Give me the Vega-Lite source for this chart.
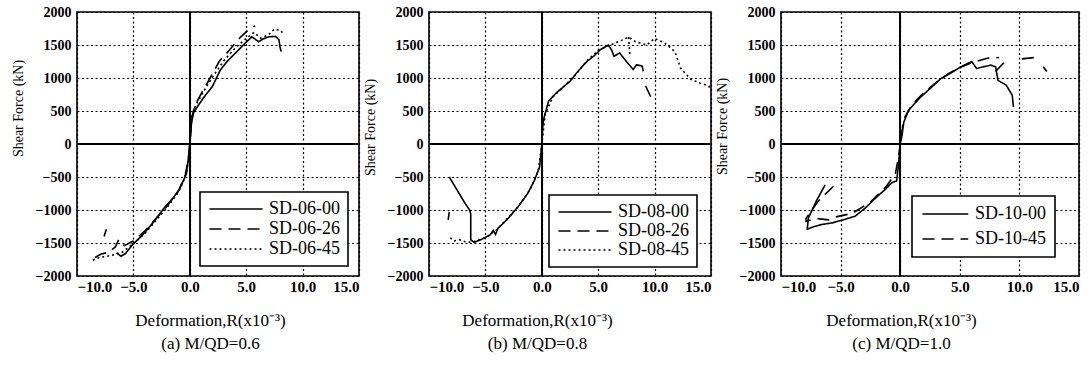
{
  "$schema": "https://vega.github.io/schema/vega-lite/v6.json",
  "padding": {"left": 10, "top": 4, "right": 5, "bottom": 5},
  "bounds": "flush",
  "spacing": 70,
  "background": "white",
  "datasets": {
    "p1": [
      {"s":"SD-06-00","g":"a","i":0,"x":-6.5,"y":-1650},{"s":"SD-06-00","g":"a","i":1,"x":-6.1,"y":-1700},{"s":"SD-06-00","g":"a","i":2,"x":-5.7,"y":-1660},{"s":"SD-06-00","g":"a","i":3,"x":-5.1,"y":-1530},{"s":"SD-06-00","g":"a","i":4,"x":-4.2,"y":-1380},{"s":"SD-06-00","g":"a","i":5,"x":-3.2,"y":-1180},{"s":"SD-06-00","g":"a","i":6,"x":-2.3,"y":-975},{"s":"SD-06-00","g":"a","i":7,"x":-1.4,"y":-800},{"s":"SD-06-00","g":"a","i":8,"x":-0.9,"y":-680},{"s":"SD-06-00","g":"a","i":9,"x":-0.55,"y":-545},{"s":"SD-06-00","g":"a","i":10,"x":-0.3,"y":-450},{"s":"SD-06-00","g":"a","i":11,"x":-0.15,"y":-250},{"s":"SD-06-00","g":"a","i":12,"x":0,"y":0},{"s":"SD-06-00","g":"a","i":13,"x":0.1,"y":250},{"s":"SD-06-00","g":"a","i":14,"x":0.2,"y":364},{"s":"SD-06-00","g":"a","i":15,"x":0.35,"y":480},{"s":"SD-06-00","g":"a","i":16,"x":0.65,"y":560},{"s":"SD-06-00","g":"a","i":17,"x":1.3,"y":720},{"s":"SD-06-00","g":"a","i":18,"x":2.0,"y":870},{"s":"SD-06-00","g":"a","i":19,"x":2.7,"y":1120},{"s":"SD-06-00","g":"a","i":20,"x":3.3,"y":1250},{"s":"SD-06-00","g":"a","i":21,"x":4.0,"y":1370},{"s":"SD-06-00","g":"a","i":22,"x":4.9,"y":1525},{"s":"SD-06-00","g":"a","i":23,"x":5.5,"y":1625},{"s":"SD-06-00","g":"a","i":24,"x":6.1,"y":1550},{"s":"SD-06-00","g":"a","i":25,"x":6.5,"y":1590},{"s":"SD-06-00","g":"a","i":26,"x":7.0,"y":1625},{"s":"SD-06-00","g":"a","i":27,"x":7.6,"y":1630},{"s":"SD-06-00","g":"a","i":28,"x":7.9,"y":1580},{"s":"SD-06-00","g":"a","i":29,"x":8.0,"y":1470},{"s":"SD-06-00","g":"a","i":30,"x":8.1,"y":1400},
      {"s":"SD-06-26","g":"a","i":0,"x":-8.4,"y":-1720},{"s":"SD-06-26","g":"a","i":1,"x":-7.9,"y":-1670},{"s":"SD-06-26","g":"a","i":2,"x":-7.2,"y":-1640},{"s":"SD-06-26","g":"a","i":3,"x":-6.6,"y":-1560},{"s":"SD-06-26","g":"a","i":4,"x":-6.3,"y":-1450},{"s":"SD-06-26","g":"a","i":5,"x":-5.8,"y":-1540},{"s":"SD-06-26","g":"a","i":6,"x":-5.0,"y":-1470},{"s":"SD-06-26","g":"a","i":7,"x":-4.0,"y":-1320},{"s":"SD-06-26","g":"a","i":8,"x":-3.0,"y":-1130},{"s":"SD-06-26","g":"a","i":9,"x":-2.0,"y":-940},{"s":"SD-06-26","g":"a","i":10,"x":-1.0,"y":-710},{"s":"SD-06-26","g":"a","i":11,"x":-0.4,"y":-470},{"s":"SD-06-26","g":"a","i":12,"x":-0.1,"y":-200},{"s":"SD-06-26","g":"a","i":13,"x":0,"y":0},{"s":"SD-06-26","g":"a","i":14,"x":0.2,"y":420},{"s":"SD-06-26","g":"a","i":15,"x":0.5,"y":600},{"s":"SD-06-26","g":"a","i":16,"x":1.0,"y":760},{"s":"SD-06-26","g":"a","i":17,"x":1.8,"y":1000},{"s":"SD-06-26","g":"a","i":18,"x":2.6,"y":1250},{"s":"SD-06-26","g":"a","i":19,"x":3.5,"y":1420},{"s":"SD-06-26","g":"a","i":20,"x":4.5,"y":1620},{"s":"SD-06-26","g":"a","i":21,"x":5.2,"y":1730},{"s":"SD-06-26","g":"a","i":22,"x":5.8,"y":1790},
      {"s":"SD-06-26","g":"b","i":0,"x":-7.4,"y":-1290},{"s":"SD-06-26","g":"b","i":1,"x":-7.6,"y":-1400},
      {"s":"SD-06-45","g":"a","i":0,"x":-8.6,"y":-1760},{"s":"SD-06-45","g":"a","i":1,"x":-8.0,"y":-1720},{"s":"SD-06-45","g":"a","i":2,"x":-7.0,"y":-1690},{"s":"SD-06-45","g":"a","i":3,"x":-6.0,"y":-1640},{"s":"SD-06-45","g":"a","i":4,"x":-5.0,"y":-1510},{"s":"SD-06-45","g":"a","i":5,"x":-4.0,"y":-1360},{"s":"SD-06-45","g":"a","i":6,"x":-3.0,"y":-1160},{"s":"SD-06-45","g":"a","i":7,"x":-2.0,"y":-960},{"s":"SD-06-45","g":"a","i":8,"x":-1.0,"y":-730},{"s":"SD-06-45","g":"a","i":9,"x":-0.4,"y":-500},{"s":"SD-06-45","g":"a","i":10,"x":-0.1,"y":-250},{"s":"SD-06-45","g":"a","i":11,"x":0,"y":0},{"s":"SD-06-45","g":"a","i":12,"x":0.2,"y":450},{"s":"SD-06-45","g":"a","i":13,"x":0.5,"y":580},{"s":"SD-06-45","g":"a","i":14,"x":1.2,"y":790},{"s":"SD-06-45","g":"a","i":15,"x":2.0,"y":1010},{"s":"SD-06-45","g":"a","i":16,"x":3.0,"y":1260},{"s":"SD-06-45","g":"a","i":17,"x":4.0,"y":1450},{"s":"SD-06-45","g":"a","i":18,"x":5.0,"y":1600},{"s":"SD-06-45","g":"a","i":19,"x":5.7,"y":1690},{"s":"SD-06-45","g":"a","i":20,"x":6.3,"y":1600},{"s":"SD-06-45","g":"a","i":21,"x":7.0,"y":1660},{"s":"SD-06-45","g":"a","i":22,"x":7.5,"y":1740},{"s":"SD-06-45","g":"a","i":23,"x":8.1,"y":1720},{"s":"SD-06-45","g":"a","i":24,"x":8.2,"y":1680}
    ],
    "p2": [
      {"s":"SD-08-00","g":"a","i":0,"x":-8.2,"y":-500},{"s":"SD-08-00","g":"a","i":1,"x":-7.5,"y":-700},{"s":"SD-08-00","g":"a","i":2,"x":-6.8,"y":-900},{"s":"SD-08-00","g":"a","i":3,"x":-6.4,"y":-1000},{"s":"SD-08-00","g":"a","i":4,"x":-6.3,"y":-1060},{"s":"SD-08-00","g":"a","i":5,"x":-6.3,"y":-1450},{"s":"SD-08-00","g":"a","i":6,"x":-6.0,"y":-1490},{"s":"SD-08-00","g":"a","i":7,"x":-5.4,"y":-1450},{"s":"SD-08-00","g":"a","i":8,"x":-4.6,"y":-1380},{"s":"SD-08-00","g":"a","i":9,"x":-4.3,"y":-1310},{"s":"SD-08-00","g":"a","i":10,"x":-4.1,"y":-1370},{"s":"SD-08-00","g":"a","i":11,"x":-3.9,"y":-1280},{"s":"SD-08-00","g":"a","i":12,"x":-3.0,"y":-1130},{"s":"SD-08-00","g":"a","i":13,"x":-2.1,"y":-950},{"s":"SD-08-00","g":"a","i":14,"x":-1.25,"y":-750},{"s":"SD-08-00","g":"a","i":15,"x":-0.65,"y":-550},{"s":"SD-08-00","g":"a","i":16,"x":-0.2,"y":-350},{"s":"SD-08-00","g":"a","i":17,"x":-0.05,"y":-100},{"s":"SD-08-00","g":"a","i":18,"x":0,"y":0},{"s":"SD-08-00","g":"a","i":19,"x":0.1,"y":300},{"s":"SD-08-00","g":"a","i":20,"x":0.2,"y":400},{"s":"SD-08-00","g":"a","i":21,"x":0.6,"y":650},{"s":"SD-08-00","g":"a","i":22,"x":1.3,"y":776},{"s":"SD-08-00","g":"a","i":23,"x":2.5,"y":950},{"s":"SD-08-00","g":"a","i":24,"x":3.3,"y":1120},{"s":"SD-08-00","g":"a","i":25,"x":4.0,"y":1250},{"s":"SD-08-00","g":"a","i":26,"x":4.6,"y":1330},{"s":"SD-08-00","g":"a","i":27,"x":5.2,"y":1430},{"s":"SD-08-00","g":"a","i":28,"x":5.9,"y":1500},{"s":"SD-08-00","g":"a","i":29,"x":6.2,"y":1420},{"s":"SD-08-00","g":"a","i":30,"x":6.4,"y":1330},{"s":"SD-08-00","g":"a","i":31,"x":6.9,"y":1380},{"s":"SD-08-00","g":"a","i":32,"x":7.5,"y":1250},{"s":"SD-08-00","g":"a","i":33,"x":8.1,"y":1130},{"s":"SD-08-00","g":"a","i":34,"x":8.4,"y":1200},{"s":"SD-08-00","g":"a","i":35,"x":8.9,"y":1180},{"s":"SD-08-00","g":"a","i":36,"x":9.0,"y":1100},
      {"s":"SD-08-26","g":"a","i":0,"x":-8.2,"y":-1030},{"s":"SD-08-26","g":"a","i":1,"x":-8.3,"y":-1150},
      {"s":"SD-08-26","g":"b","i":0,"x":9.2,"y":880},{"s":"SD-08-26","g":"b","i":1,"x":9.75,"y":680},
      {"s":"SD-08-45","g":"a","i":0,"x":-8.1,"y":-1420},{"s":"SD-08-45","g":"a","i":1,"x":-7.8,"y":-1470},{"s":"SD-08-45","g":"a","i":2,"x":-7.3,"y":-1450},{"s":"SD-08-45","g":"a","i":3,"x":-6.8,"y":-1480},{"s":"SD-08-45","g":"a","i":4,"x":-6.2,"y":-1490},{"s":"SD-08-45","g":"a","i":5,"x":-5.0,"y":-1420},{"s":"SD-08-45","g":"a","i":6,"x":-4.0,"y":-1300},{"s":"SD-08-45","g":"a","i":7,"x":-3.0,"y":-1120},{"s":"SD-08-45","g":"a","i":8,"x":-2.0,"y":-930},{"s":"SD-08-45","g":"a","i":9,"x":-1.0,"y":-680},{"s":"SD-08-45","g":"a","i":10,"x":-0.3,"y":-400},{"s":"SD-08-45","g":"a","i":11,"x":0,"y":0},{"s":"SD-08-45","g":"a","i":12,"x":0.3,"y":450},{"s":"SD-08-45","g":"a","i":13,"x":1.0,"y":720},{"s":"SD-08-45","g":"a","i":14,"x":2.0,"y":880},{"s":"SD-08-45","g":"a","i":15,"x":3.0,"y":1050},{"s":"SD-08-45","g":"a","i":16,"x":4.0,"y":1260},{"s":"SD-08-45","g":"a","i":17,"x":5.0,"y":1420},{"s":"SD-08-45","g":"a","i":18,"x":5.9,"y":1490},{"s":"SD-08-45","g":"a","i":19,"x":6.5,"y":1530},{"s":"SD-08-45","g":"a","i":20,"x":7.2,"y":1580},{"s":"SD-08-45","g":"a","i":21,"x":7.7,"y":1620},{"s":"SD-08-45","g":"a","i":22,"x":8.3,"y":1550},{"s":"SD-08-45","g":"a","i":23,"x":9.3,"y":1500},{"s":"SD-08-45","g":"a","i":24,"x":10.0,"y":1600},{"s":"SD-08-45","g":"a","i":25,"x":10.9,"y":1530},{"s":"SD-08-45","g":"a","i":26,"x":11.8,"y":1400},{"s":"SD-08-45","g":"a","i":27,"x":12.3,"y":1150},{"s":"SD-08-45","g":"a","i":28,"x":13.2,"y":980},{"s":"SD-08-45","g":"a","i":29,"x":14.0,"y":925},{"s":"SD-08-45","g":"a","i":30,"x":14.8,"y":880},{"s":"SD-08-45","g":"a","i":31,"x":15.0,"y":800},
      {"s":"SD-08-45","g":"b","i":0,"x":7.7,"y":1620},{"s":"SD-08-45","g":"b","i":1,"x":7.8,"y":1350}
    ],
    "p3": [
      {"s":"SD-10-00","g":"a","i":0,"x":-6.3,"y":-620},{"s":"SD-10-00","g":"a","i":1,"x":-7.0,"y":-850},{"s":"SD-10-00","g":"a","i":2,"x":-7.7,"y":-1120},{"s":"SD-10-00","g":"a","i":3,"x":-7.8,"y":-1290},{"s":"SD-10-00","g":"a","i":4,"x":-7.2,"y":-1250},{"s":"SD-10-00","g":"a","i":5,"x":-6.6,"y":-1220},{"s":"SD-10-00","g":"a","i":6,"x":-5.7,"y":-1195},{"s":"SD-10-00","g":"a","i":7,"x":-4.7,"y":-1145},{"s":"SD-10-00","g":"a","i":8,"x":-3.8,"y":-1095},{"s":"SD-10-00","g":"a","i":9,"x":-2.9,"y":-965},{"s":"SD-10-00","g":"a","i":10,"x":-1.9,"y":-790},{"s":"SD-10-00","g":"a","i":11,"x":-1.2,"y":-680},{"s":"SD-10-00","g":"a","i":12,"x":-0.7,"y":-585},{"s":"SD-10-00","g":"a","i":13,"x":-0.3,"y":-560},{"s":"SD-10-00","g":"a","i":14,"x":-0.15,"y":-330},{"s":"SD-10-00","g":"a","i":15,"x":0,"y":0},{"s":"SD-10-00","g":"a","i":16,"x":0.15,"y":127},{"s":"SD-10-00","g":"a","i":17,"x":0.3,"y":330},{"s":"SD-10-00","g":"a","i":18,"x":0.7,"y":510},{"s":"SD-10-00","g":"a","i":19,"x":1.6,"y":690},{"s":"SD-10-00","g":"a","i":20,"x":2.5,"y":840},{"s":"SD-10-00","g":"a","i":21,"x":3.4,"y":990},{"s":"SD-10-00","g":"a","i":22,"x":4.2,"y":1070},{"s":"SD-10-00","g":"a","i":23,"x":5.1,"y":1170},{"s":"SD-10-00","g":"a","i":24,"x":6.0,"y":1250},{"s":"SD-10-00","g":"a","i":25,"x":6.4,"y":1145},{"s":"SD-10-00","g":"a","i":26,"x":7.0,"y":1170},{"s":"SD-10-00","g":"a","i":27,"x":7.6,"y":1195},{"s":"SD-10-00","g":"a","i":28,"x":8.0,"y":1170},{"s":"SD-10-00","g":"a","i":29,"x":8.2,"y":965},{"s":"SD-10-00","g":"a","i":30,"x":8.9,"y":890},{"s":"SD-10-00","g":"a","i":31,"x":9.4,"y":740},{"s":"SD-10-00","g":"a","i":32,"x":9.5,"y":560},
      {"s":"SD-10-45","g":"a","i":0,"x":-5.6,"y":-640},{"s":"SD-10-45","g":"a","i":1,"x":-6.9,"y":-870},{"s":"SD-10-45","g":"a","i":2,"x":-7.9,"y":-1130},{"s":"SD-10-45","g":"a","i":3,"x":-7.9,"y":-1170},{"s":"SD-10-45","g":"a","i":4,"x":-7.0,"y":-1130},{"s":"SD-10-45","g":"a","i":5,"x":-6.0,"y":-1150},{"s":"SD-10-45","g":"a","i":6,"x":-5.3,"y":-1100},{"s":"SD-10-45","g":"a","i":7,"x":-4.0,"y":-1050},{"s":"SD-10-45","g":"a","i":8,"x":-2.5,"y":-880},{"s":"SD-10-45","g":"a","i":9,"x":-1.2,"y":-650},{"s":"SD-10-45","g":"a","i":10,"x":-0.4,"y":-450},{"s":"SD-10-45","g":"a","i":11,"x":-0.1,"y":-150},{"s":"SD-10-45","g":"a","i":12,"x":0,"y":0},{"s":"SD-10-45","g":"a","i":13,"x":0.3,"y":380},{"s":"SD-10-45","g":"a","i":14,"x":1.0,"y":600},{"s":"SD-10-45","g":"a","i":15,"x":2.0,"y":780},{"s":"SD-10-45","g":"a","i":16,"x":3.0,"y":930},{"s":"SD-10-45","g":"a","i":17,"x":4.0,"y":1060},{"s":"SD-10-45","g":"a","i":18,"x":5.0,"y":1160},{"s":"SD-10-45","g":"a","i":19,"x":6.0,"y":1230},{"s":"SD-10-45","g":"a","i":20,"x":7.3,"y":1300},{"s":"SD-10-45","g":"a","i":21,"x":8.3,"y":1310},
      {"s":"SD-10-45","g":"b","i":0,"x":8.0,"y":1100},{"s":"SD-10-45","g":"b","i":1,"x":8.8,"y":1250},
      {"s":"SD-10-45","g":"c","i":0,"x":10.2,"y":1290},{"s":"SD-10-45","g":"c","i":1,"x":11.3,"y":1310},
      {"s":"SD-10-45","g":"d","i":0,"x":12.0,"y":1170},{"s":"SD-10-45","g":"d","i":1,"x":12.3,"y":1100}
    ]
  },
  "resolve": {"scale": {"strokeDash": "independent"}, "legend": {"strokeDash": "independent"}},
  "hconcat": [
    {
      "width": 282, "height": 264,
      "data": {"name": "p1"},
      "layer": [
        {
          "mark": {"type": "line", "color": "black", "strokeWidth": 1.6},
          "encoding": {
            "x": {"field": "x", "type": "quantitative", "scale": {"domain": [-10, 15], "nice": false},
                  "axis": {"values": [-10, -5, 0, 5, 10, 15], "format": ".1f", "labelPadding": 3, "labelFontSize": 15, "title": ["Deformation,R(x10⁻³)", "(a) M/QD=0.6"], "titleX": 133, "titlePadding": 18, "titleFontSize": 17, "titleLineHeight": 23}},
            "y": {"field": "y", "type": "quantitative", "scale": {"domain": [-2000, 2000], "nice": false},
                  "axis": {"values": [-2000, -1500, -1000, -500, 0, 500, 1000, 1500, 2000], "format": "d", "title": "Shear Force (kN)", "titleY": 96, "titlePadding": 10}},
            "strokeDash": {"field": "s", "type": "nominal", "scale": {"domain": ["SD-06-00", "SD-06-26", "SD-06-45"], "range": [[1, 0], [12, 7], [2, 3]]},
                           "legend": {"title": null, "orient": "none", "legendX": 123, "legendY": 180, "symbolType": "M-1,0H6.07", "labelOffset": 43, "padding": 8, "rowPadding": 2}},
            "detail": {"field": "g"},
            "order": {"field": "i", "type": "quantitative"}
          }
        },
        {"mark": {"type": "rule", "color": "black", "strokeWidth": 1.6},
         "encoding": {"y": {"datum": 0, "type": "quantitative", "scale": {"domain": [-2000, 2000], "nice": false},
                            "axis": {"values": [-2000, -1500, -1000, -500, 0, 500, 1000, 1500, 2000], "format": "d", "title": "Shear Force (kN)", "titleY": 96, "titlePadding": 10}}}},
        {"mark": {"type": "rule", "color": "black", "strokeWidth": 1.5},
         "encoding": {"x": {"datum": 0, "type": "quantitative", "scale": {"domain": [-10, 15], "nice": false},
                            "axis": {"values": [-10, -5, 0, 5, 10, 15], "format": ".1f", "labelPadding": 3, "labelFontSize": 15, "title": ["Deformation,R(x10⁻³)", "(a) M/QD=0.6"], "titleX": 133, "titlePadding": 18, "titleFontSize": 17, "titleLineHeight": 23}}}}
      ]
    },
    {
      "width": 282, "height": 264,
      "data": {"name": "p2"},
      "layer": [
        {
          "mark": {"type": "line", "color": "black", "strokeWidth": 1.6},
          "encoding": {
            "x": {"field": "x", "type": "quantitative", "scale": {"domain": [-10, 15], "nice": false},
                  "axis": {"values": [-10, -5, 0, 5, 10, 15], "format": ".1f", "labelPadding": 3, "labelFontSize": 15, "title": ["Deformation,R(x10⁻³)", "(b) M/QD=0.8"], "titleX": 108, "titlePadding": 18, "titleFontSize": 17, "titleLineHeight": 23}},
            "y": {"field": "y", "type": "quantitative", "scale": {"domain": [-2000, 2000], "nice": false},
                  "axis": {"values": [-2000, -1500, -1000, -500, 0, 500, 1000, 1500, 2000], "format": "d", "title": "Shear Force (kN)", "titleY": 115, "titlePadding": 10}},
            "strokeDash": {"field": "s", "type": "nominal", "scale": {"domain": ["SD-08-00", "SD-08-26", "SD-08-45"], "range": [[1, 0], [12, 7], [2, 3]]},
                           "legend": {"title": null, "orient": "none", "legendX": 120, "legendY": 183, "symbolType": "M-1,0H6.07", "labelOffset": 43, "padding": 8, "rowPadding": 1}},
            "detail": {"field": "g"},
            "order": {"field": "i", "type": "quantitative"}
          }
        },
        {"mark": {"type": "rule", "color": "black", "strokeWidth": 1.6},
         "encoding": {"y": {"datum": 0, "type": "quantitative", "scale": {"domain": [-2000, 2000], "nice": false},
                            "axis": {"values": [-2000, -1500, -1000, -500, 0, 500, 1000, 1500, 2000], "format": "d", "title": "Shear Force (kN)", "titleY": 115, "titlePadding": 10}}}},
        {"mark": {"type": "rule", "color": "black", "strokeWidth": 1.5},
         "encoding": {"x": {"datum": 0, "type": "quantitative", "scale": {"domain": [-10, 15], "nice": false},
                            "axis": {"values": [-10, -5, 0, 5, 10, 15], "format": ".1f", "labelPadding": 3, "labelFontSize": 15, "title": ["Deformation,R(x10⁻³)", "(b) M/QD=0.8"], "titleX": 108, "titlePadding": 18, "titleFontSize": 17, "titleLineHeight": 23}}}}
      ]
    },
    {
      "width": 298, "height": 264,
      "data": {"name": "p3"},
      "layer": [
        {
          "mark": {"type": "line", "color": "black", "strokeWidth": 1.6},
          "encoding": {
            "x": {"field": "x", "type": "quantitative", "scale": {"domain": [-10, 15], "nice": false},
                  "axis": {"values": [-10, -5, 0, 5, 10, 15], "format": ".1f", "labelPadding": 3, "labelFontSize": 15, "title": ["Deformation,R(x10⁻³)", "(c) M/QD=1.0"], "titleX": 120, "titlePadding": 18, "titleFontSize": 17, "titleLineHeight": 23}},
            "y": {"field": "y", "type": "quantitative", "scale": {"domain": [-2000, 2000], "nice": false},
                  "axis": {"values": [-2000, -1500, -1000, -500, 0, 500, 1000, 1500, 2000], "format": "d", "title": "Shear Force (kN)", "titleY": 114, "titlePadding": 10}},
            "strokeDash": {"field": "s", "type": "nominal", "scale": {"domain": ["SD-10-00", "SD-10-45"], "range": [[1, 0], [12, 7]]},
                           "legend": {"title": null, "orient": "none", "legendX": 131, "legendY": 184, "symbolType": "M-1,0H5.1", "labelOffset": 36, "padding": 9, "rowPadding": 7}},
            "detail": {"field": "g"},
            "order": {"field": "i", "type": "quantitative"}
          }
        },
        {"mark": {"type": "rule", "color": "black", "strokeWidth": 1.6},
         "encoding": {"y": {"datum": 0, "type": "quantitative", "scale": {"domain": [-2000, 2000], "nice": false},
                            "axis": {"values": [-2000, -1500, -1000, -500, 0, 500, 1000, 1500, 2000], "format": "d", "title": "Shear Force (kN)", "titleY": 114, "titlePadding": 10}}}},
        {"mark": {"type": "rule", "color": "black", "strokeWidth": 1.5},
         "encoding": {"x": {"datum": 0, "type": "quantitative", "scale": {"domain": [-10, 15], "nice": false},
                            "axis": {"values": [-10, -5, 0, 5, 10, 15], "format": ".1f", "labelPadding": 3, "labelFontSize": 15, "title": ["Deformation,R(x10⁻³)", "(c) M/QD=1.0"], "titleX": 120, "titlePadding": 18, "titleFontSize": 17, "titleLineHeight": 23}}}}
      ]
    }
  ],
  "config": {
    "font": "Liberation Serif",
    "view": {"stroke": "black", "strokeWidth": 1.6},
    "axis": {
      "grid": true, "gridColor": "black", "gridDash": [2, 2.5], "gridWidth": 1.2, "gridOpacity": 1,
      "domain": false, "ticks": false, "labelOverlap": false,
      "labelFont": "Liberation Serif", "labelFontSize": 14, "labelFontWeight": "bold", "labelColor": "black", "labelPadding": 6,
      "titleFont": "Liberation Serif", "titleFontSize": 14, "titleFontWeight": "normal", "titleColor": "black"
    },
    "legend": {
      "strokeColor": "black", "fillColor": "white", "strokeWidth": 1.6,
      "symbolSize": 225, "symbolStrokeWidth": 1.5, "symbolStrokeColor": "black",
      "labelFont": "Liberation Serif", "labelFontSize": 18, "labelColor": "black"
    }
  }
}
